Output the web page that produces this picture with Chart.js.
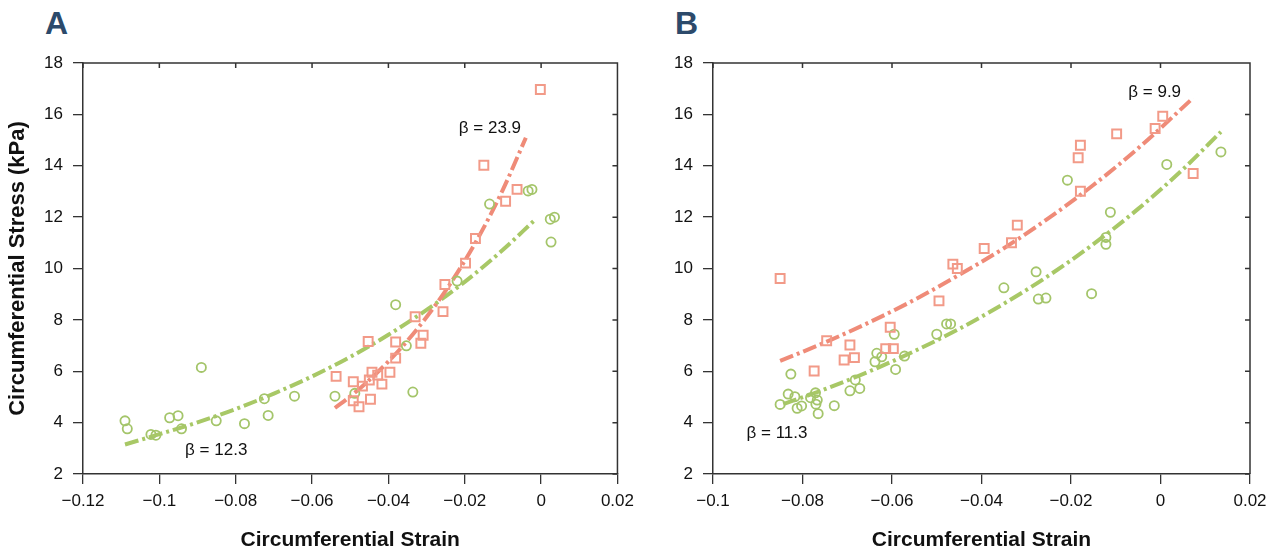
<!DOCTYPE html>
<html>
<head>
<meta charset="utf-8">
<script src="https://cdn.jsdelivr.net/npm/chart.js@4.4.1/dist/chart.umd.min.js"></script>
<style>
  body { margin: 0; background: #fff; width: 1282px; height: 554px; position: relative; overflow: hidden; }
  .panel { position: absolute; top: 0; width: 641px; height: 554px; }
  .tag { position: absolute; top: 7px; font: bold 32px/1 "Liberation Sans", Arial, sans-serif; color: #2c4a6b; }
</style>
</head>
<body>
<div class="tag" style="left:45px">A</div>
<div class="tag" style="left:675px">B</div>
<div class="panel" style="left:0"><canvas id="chartA"></canvas></div>
<div class="panel" style="left:641px"><canvas id="chartB"></canvas></div>
<script>
// Panel A - measured points
const sqStrainA = [-0.0537, -0.0492, -0.0492, -0.0477, -0.0468, -0.0453, -0.0450, -0.0447, -0.0443, -0.0428, -0.0417, -0.0396, -0.0381, -0.0381, -0.0330, -0.0315, -0.0309, -0.0257, -0.0252, -0.0198, -0.0172, -0.0150, -0.0093, -0.0063, -0.0002];
const sqStressA = [5.80, 5.59, 4.85, 4.62, 5.42, 7.16, 5.66, 4.91, 5.96, 5.85, 5.50, 5.96, 7.14, 6.51, 8.12, 7.09, 7.40, 8.32, 9.38, 10.21, 11.17, 14.02, 12.62, 13.08, 16.97];
const ciStrainA = [-0.1090, -0.1084, -0.1022, -0.1009, -0.0973, -0.0951, -0.0942, -0.0890, -0.0851, -0.0777, -0.0725, -0.0715, -0.0646, -0.0540, -0.0488, -0.0381, -0.0353, -0.0336, -0.0220, -0.0135, -0.0034, -0.0024, 0.0024, 0.0035, 0.0026];
const ciStressA = [4.07, 3.76, 3.54, 3.51, 4.19, 4.27, 3.76, 6.15, 4.07, 3.96, 4.93, 4.28, 5.03, 5.03, 5.14, 8.59, 6.99, 5.19, 9.51, 12.51, 13.02, 13.08, 11.92, 12.00, 11.03];

// Panel A - fitted curves
const fitRedStrainA = [-0.054, -0.05, -0.045, -0.04, -0.035, -0.03, -0.025, -0.02, -0.015, -0.01, -0.004];
const fitRedStressA = [4.57, 5.02, 5.66, 6.38, 7.19, 8.11, 9.14, 10.30, 11.60, 13.07, 15.09];
const fitGreenStrainA = [-0.109, -0.10, -0.09, -0.08, -0.07, -0.06, -0.05, -0.04, -0.03, -0.02, -0.01, -0.002];
const fitGreenStressA = [3.15, 3.55, 4.01, 4.53, 5.13, 5.80, 6.56, 7.42, 8.39, 9.48, 10.73, 11.84];

// Panel B - measured points
const sqStrainB = [-0.0850, -0.0774, -0.0746, -0.0707, -0.0694, -0.0684, -0.0614, -0.0604, -0.0597, -0.0495, -0.0464, -0.0454, -0.0394, -0.0333, -0.0320, -0.0184, -0.0179, -0.0179, -0.0098, -0.0012, 0.0005, 0.0073];
const sqStressB = [9.61, 6.01, 7.19, 6.44, 7.02, 6.53, 6.88, 7.71, 6.88, 8.74, 10.17, 10.00, 10.78, 11.00, 11.69, 14.31, 14.80, 13.01, 15.24, 15.45, 15.93, 13.70];
const ciStrainB = [-0.0850, -0.0832, -0.0826, -0.0817, -0.0812, -0.0802, -0.0782, -0.0771, -0.0767, -0.0770, -0.0765, -0.0729, -0.0694, -0.0682, -0.0672, -0.0638, -0.0634, -0.0623, -0.0595, -0.0592, -0.0572, -0.0500, -0.0478, -0.0469, -0.0350, -0.0278, -0.0273, -0.0256, -0.0208, -0.0154, -0.0122, -0.0122, -0.0112, 0.0014, 0.0135];
const ciStressB = [4.71, 5.11, 5.89, 5.01, 4.56, 4.65, 4.97, 5.16, 4.88, 4.72, 4.35, 4.66, 5.24, 5.66, 5.33, 6.37, 6.70, 6.56, 7.44, 6.07, 6.59, 7.44, 7.84, 7.84, 9.25, 9.87, 8.81, 8.85, 13.44, 9.02, 11.21, 10.94, 12.19, 14.05, 14.54];

// Panel B - fitted curves
const fitRedStrainB = [-0.085, -0.075, -0.065, -0.055, -0.045, -0.035, -0.025, -0.015, -0.005, 0.0073];
const fitRedStressB = [6.40, 7.12, 7.91, 8.78, 9.75, 10.79, 11.96, 13.25, 14.68, 16.64];
const fitGreenStrainB = [-0.0843, -0.075, -0.065, -0.055, -0.045, -0.035, -0.025, -0.015, -0.005, 0.005, 0.0135];
const fitGreenStressB = [4.72, 5.30, 6.00, 6.78, 7.65, 8.63, 9.72, 10.95, 12.32, 13.86, 15.32];

// beta annotations
const betaA = [{ text: 'β = 23.9', x: -0.0134, y: 15.46 }, { text: 'β = 12.3', x: -0.0851, y: 2.93 }];
const betaB = [{ text: 'β = 9.9', x: -0.0013, y: 16.86 }, { text: 'β = 11.3', x: -0.0857, y: 3.60 }];

const yTicks = [2, 4, 6, 8, 10, 12, 14, 16, 18];

const RED_PT = '#f29a88', RED_LINE = '#ef8b78';
const GREEN_PT = '#a4c56a', GREEN_LINE = '#a8c866';
const AXIS = '#333';
const FONT = '"Liberation Sans", Arial, sans-serif';

const zip = (xs, ys) => xs.map((x, i) => ({ x, y: ys[i] }));

const fmtStrain = v => {
    const r = Math.round(v * 100) / 100;
    return r < 0 ? '\u2212' + Math.abs(r) : String(r);
};

const framePlugin = {
    id: 'frame',
    afterDraw(chart, args, opts) {
        const { ctx, chartArea: a, scales: { x, y } } = chart;
        ctx.save();
        ctx.strokeStyle = AXIS;
        ctx.lineWidth = 1.5;
        ctx.beginPath();
        ctx.moveTo(a.left, a.top);
        ctx.lineTo(a.right, a.top);
        ctx.lineTo(a.right, a.bottom);
        x.ticks.forEach(t => {
            const px = x.getPixelForValue(t.value);
            ctx.moveTo(px, a.top);
            ctx.lineTo(px, a.top + 5);
        });
        y.ticks.forEach(t => {
            const py = y.getPixelForValue(t.value);
            ctx.moveTo(a.right, py);
            ctx.lineTo(a.right - 5, py);
        });
        ctx.stroke();

        ctx.fillStyle = '#111';
        ctx.font = '17px ' + FONT;
        ctx.textAlign = 'center';
        ctx.textBaseline = 'middle';
        (opts.labels || []).forEach(l => {
            ctx.fillText(l.text, x.getPixelForValue(l.x), y.getPixelForValue(l.y));
        });
        ctx.restore();
    }
};

function makeChart(id, cfg) {
    const fitStyle = color => ({
        showLine: true,
        borderColor: color,
        borderWidth: 4,
        borderDash: [14, 4, 3, 4],
        pointRadius: 0,
        cubicInterpolationMode: 'monotone',
        fill: false
    });

    return new Chart(document.getElementById(id), {
        type: 'scatter',
        data: {
            datasets: [
                { data: cfg.squares, pointStyle: 'rect', pointRadius: 6.3, borderColor: RED_PT, backgroundColor: 'transparent', borderWidth: 2 },
                { data: cfg.circles, pointStyle: 'circle', pointRadius: 4.6, borderColor: GREEN_PT, backgroundColor: 'transparent', borderWidth: 1.8 },
                { data: cfg.redFit, ...fitStyle(RED_LINE) },
                { data: cfg.greenFit, ...fitStyle(GREEN_LINE) }
            ]
        },
        options: {
            responsive: true,
            maintainAspectRatio: false,
            animation: false,
            events: [],
            layout: { padding: { top: 63, right: cfg.padRight, bottom: 0, left: 0 } },
            plugins: {
                legend: { display: false },
                tooltip: { enabled: false },
                frame: { labels: cfg.labels }
            },
            scales: {
                x: {
                    type: 'linear',
                    min: cfg.xMin,
                    max: 0.02,
                    afterFit: s => { s.height = 80; },
                    afterBuildTicks: s => { s.ticks = cfg.xTicks.map(v => ({ value: v })); },
                    ticks: { callback: fmtStrain, color: '#111', font: { family: FONT, size: 17 }, padding: 7, maxRotation: 0, autoSkip: false },
                    grid: { drawOnChartArea: false, drawTicks: true, tickLength: 10, color: AXIS, lineWidth: 1.3 },
                    border: { color: AXIS, width: 1.5 },
                    title: { display: true, text: 'Circumferential Strain', color: '#111', font: { family: FONT, size: 21, weight: 'bold' }, padding: { top: 0, bottom: 1 } }
                },
                y: {
                    type: 'linear',
                    min: 2,
                    max: 18,
                    afterFit: s => { s.width = cfg.yWidth; },
                    afterBuildTicks: s => { s.ticks = yTicks.map(v => ({ value: v })); },
                    ticks: { color: '#111', font: { family: FONT, size: 17 }, padding: 10 },
                    grid: { drawOnChartArea: false, drawTicks: true, tickLength: 10, color: AXIS, lineWidth: 1.3 },
                    border: { color: AXIS, width: 1.5 },
                    title: { display: cfg.yTitle, text: 'Circumferential Stress (kPa)', color: '#111', font: { family: FONT, size: 22, weight: 'bold' }, padding: { top: 5, bottom: 0 } }
                }
            }
        },
        plugins: [framePlugin]
    });
}

makeChart('chartA', {
    squares: zip(sqStrainA, sqStressA),
    circles: zip(ciStrainA, ciStressA),
    redFit: zip(fitRedStrainA, fitRedStressA),
    greenFit: zip(fitGreenStrainA, fitGreenStressA),
    labels: betaA,
    xMin: -0.12,
    xTicks: [-0.12, -0.1, -0.08, -0.06, -0.04, -0.02, 0, 0.02],
    padRight: 22,
    yWidth: 83,
    yTitle: true
});

makeChart('chartB', {
    squares: zip(sqStrainB, sqStressB),
    circles: zip(ciStrainB, ciStressB),
    redFit: zip(fitRedStrainB, fitRedStressB),
    greenFit: zip(fitGreenStrainB, fitGreenStressB),
    labels: betaB,
    xMin: -0.1,
    xTicks: [-0.1, -0.08, -0.06, -0.04, -0.02, 0, 0.02],
    padRight: 32,
    yWidth: 72,
    yTitle: false
});
</script>
</body>
</html>
